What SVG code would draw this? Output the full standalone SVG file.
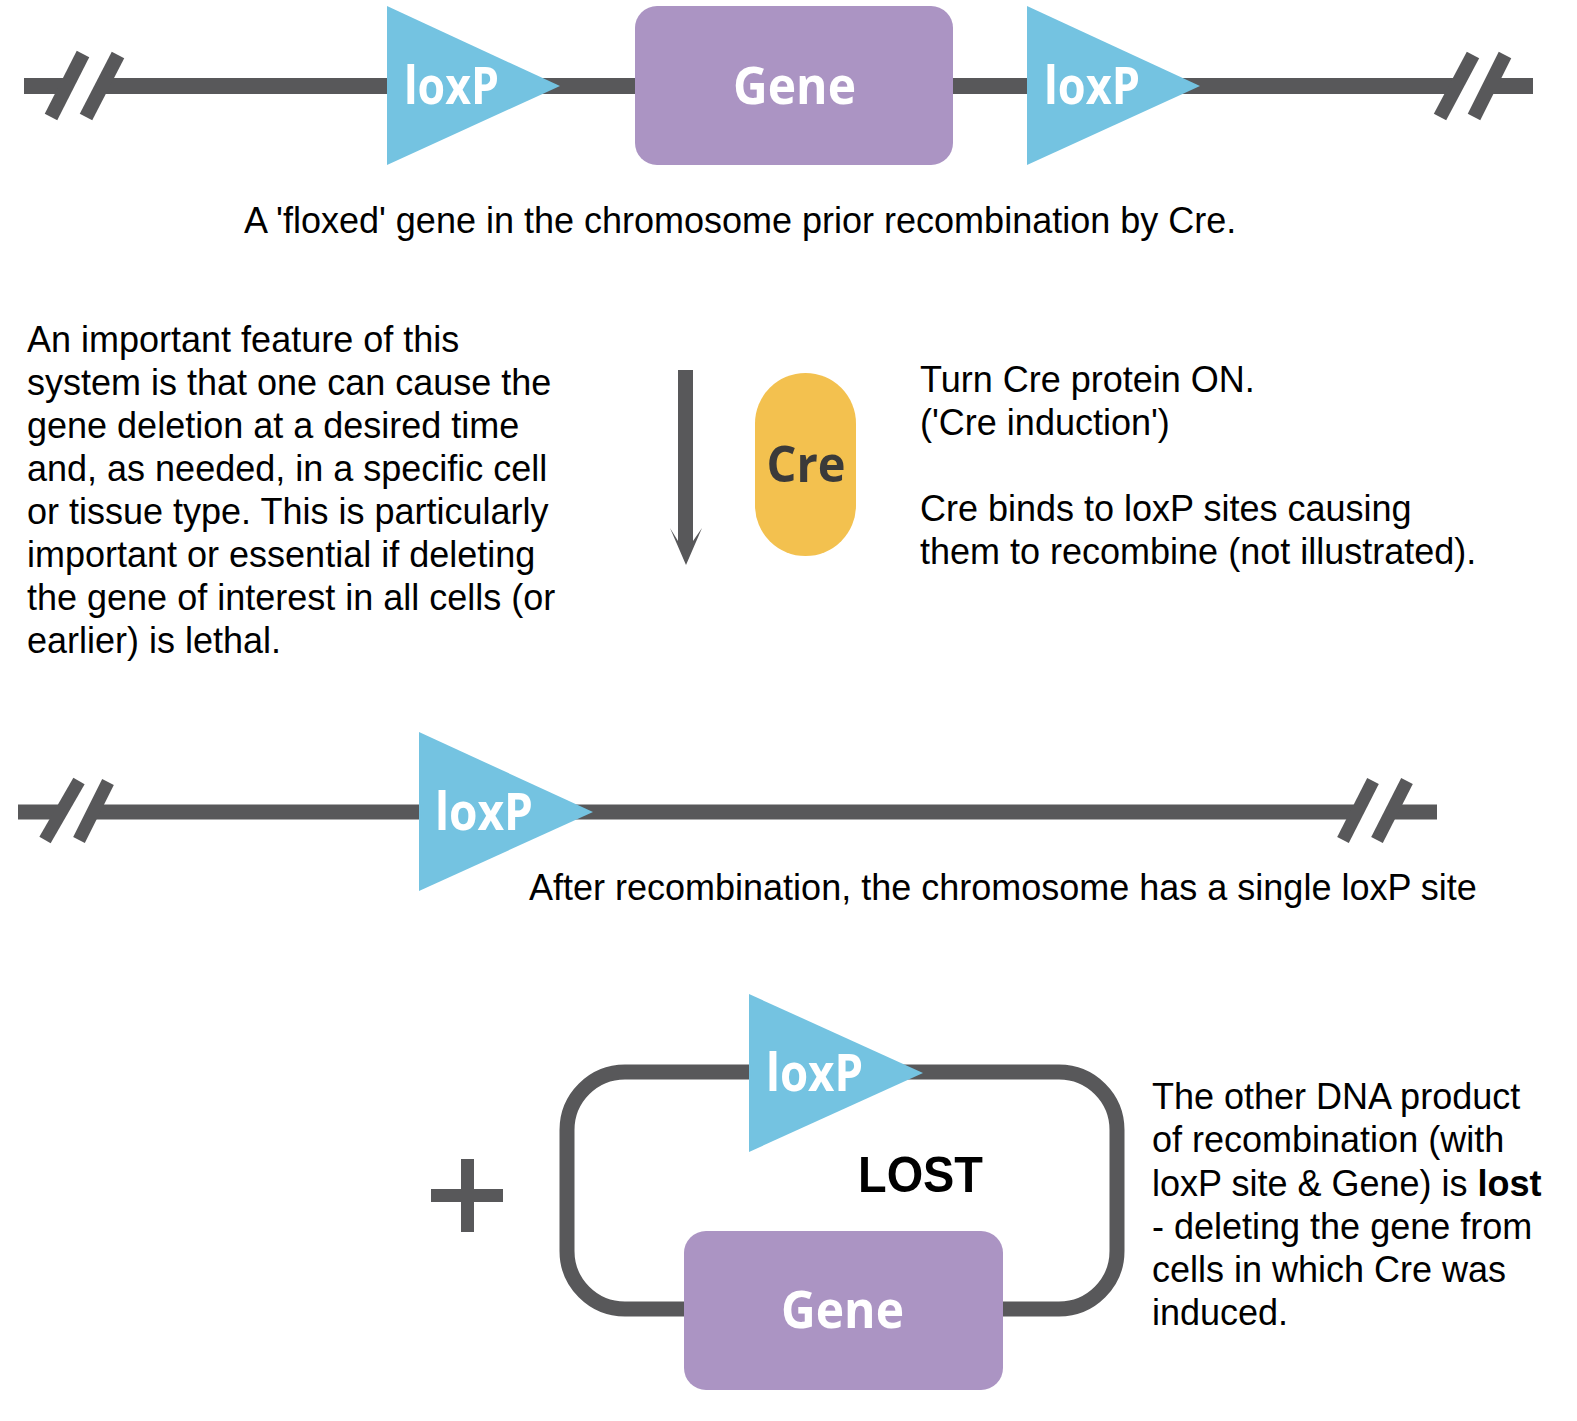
<svg xmlns="http://www.w3.org/2000/svg" width="1577" height="1421" viewBox="0 0 1577 1421">
<style>
.dna{stroke:#58585A;stroke-width:16;fill:none}
.slash{stroke:#58585A;stroke-width:14;stroke-linecap:butt}
.loxp{fill:#74C3E1}
.gene{fill:#AB94C3}
.lbl{font-family:"Open Sans","DejaVu Sans",sans-serif;font-weight:bold;fill:#FFFFFF;font-size:52px}
.body{font-family:"Liberation Sans",Arial,sans-serif;font-size:36px;fill:#000000}
</style>
<rect width="1577" height="1421" fill="#FFFFFF"/>
<g id="chromosome-before">
<line class="dna" x1="24" y1="86" x2="67" y2="86"/>
<line class="dna" x1="102" y1="86" x2="1456" y2="86"/>
<line class="dna" x1="1490" y1="86" x2="1533" y2="86"/>
<line class="slash" x1="51" y1="117" x2="83" y2="54"/>
<line class="slash" x1="86" y1="117" x2="118" y2="55"/>
<line class="slash" x1="1440" y1="117" x2="1473" y2="55"/>
<line class="slash" x1="1474" y1="117" x2="1505" y2="55"/>
</g>
<g id="loxp-1">
<polygon class="loxp" points="387,6 560,86 387,165"/>
<text class="lbl" x="404" y="104" textLength="95" lengthAdjust="spacingAndGlyphs">loxP</text>
</g>
<g id="gene-1">
<rect class="gene" x="635" y="6" width="318" height="159" rx="22"/>
<text class="lbl" x="733" y="104" textLength="123" lengthAdjust="spacingAndGlyphs">Gene</text>
</g>
<g id="loxp-2">
<polygon class="loxp" points="1027,6 1200,86 1027,165"/>
<text class="lbl" x="1044" y="104" textLength="96" lengthAdjust="spacingAndGlyphs">loxP</text>
</g>
<g id="caption-1">
<text class="body" x="244" y="233">A 'floxed' gene in the chromosome prior recombination by Cre.</text>
</g>
<g id="note-left">
<text class="body" x="27" y="352">An important feature of this</text>
<text class="body" x="27" y="395">system is that one can cause the</text>
<text class="body" x="27" y="438">gene deletion at a desired time</text>
<text class="body" x="27" y="481">and, as needed, in a specific cell</text>
<text class="body" x="27" y="524">or tissue type. This is particularly</text>
<text class="body" x="27" y="567">important or essential if deleting</text>
<text class="body" x="27" y="610">the gene of interest in all cells (or</text>
<text class="body" x="27" y="653">earlier) is lethal.</text>
</g>
<g id="connectors">
<polygon fill="#58585A" points="678,370 693,370 693,541 702,528 686,565 670,528 678,541"/>
</g>
<g id="cre">
<rect x="755" y="373" width="101" height="183" rx="50.5" fill="#F3C14F"/>
<text x="806" y="482" text-anchor="middle" font-family="'Open Sans','DejaVu Sans',sans-serif" font-weight="bold" font-size="50" fill="#3A3A3A" textLength="79" lengthAdjust="spacingAndGlyphs">Cre</text>
</g>
<g id="note-cre">
<text class="body" x="920" y="392">Turn Cre protein ON.</text>
<text class="body" x="920" y="435">('Cre induction')</text>
<text class="body" x="920" y="521">Cre binds to loxP sites causing</text>
<text class="body" x="920" y="564">them to recombine (not illustrated).</text>
</g>
<g id="chromosome-after">
<line class="dna" x1="18" y1="812" x2="62" y2="812" style="stroke-width:15"/>
<line class="dna" x1="94" y1="812" x2="1358" y2="812" style="stroke-width:15"/>
<line class="dna" x1="1392" y1="812" x2="1437" y2="812" style="stroke-width:15"/>
<line class="slash" x1="45" y1="840" x2="79" y2="781" style="stroke-width:13"/>
<line class="slash" x1="79" y1="840" x2="108" y2="782" style="stroke-width:13"/>
<line class="slash" x1="1343" y1="840" x2="1373" y2="781" style="stroke-width:13"/>
<line class="slash" x1="1377" y1="840" x2="1407" y2="781" style="stroke-width:13"/>
</g>
<g id="loxp-3">
<polygon class="loxp" points="419,732 593,812 419,891"/>
<text class="lbl" x="435" y="830" textLength="98" lengthAdjust="spacingAndGlyphs">loxP</text>
</g>
<g id="caption-2">
<text class="body" x="529" y="900">After recombination, the chromosome has a single loxP site</text>
</g>
<g id="plus">
<rect x="431" y="1189" width="72" height="13" fill="#58585A"/>
<rect x="461" y="1159" width="13" height="73" fill="#58585A"/>
</g>
<g id="circle-product">
<rect class="dna" x="567" y="1072" width="550" height="237" rx="58" style="stroke-width:15"/>
</g>
<g id="loxp-4">
<polygon class="loxp" points="749,994 923,1073 749,1152"/>
<text class="lbl" x="766" y="1091" textLength="97" lengthAdjust="spacingAndGlyphs">loxP</text>
</g>
<g id="gene-2">
<rect class="gene" x="684" y="1231" width="319" height="159" rx="22"/>
<text class="lbl" x="781" y="1328" textLength="123" lengthAdjust="spacingAndGlyphs">Gene</text>
</g>
<g id="lost-label">
<text x="858" y="1192" font-family="'Liberation Sans',Arial,sans-serif" font-weight="bold" font-size="50" fill="#000000" textLength="125" lengthAdjust="spacingAndGlyphs">LOST</text>
</g>
<g id="note-lost">
<text class="body" x="1152" y="1109">The other DNA product</text>
<text class="body" x="1152" y="1152">of recombination (with</text>
<text class="body" x="1152" y="1196">loxP site &amp; Gene) is <tspan font-weight="bold">lost</tspan></text>
<text class="body" x="1152" y="1239">- deleting the gene from</text>
<text class="body" x="1152" y="1282">cells in which Cre was</text>
<text class="body" x="1152" y="1325">induced.</text>
</g>
</svg>
